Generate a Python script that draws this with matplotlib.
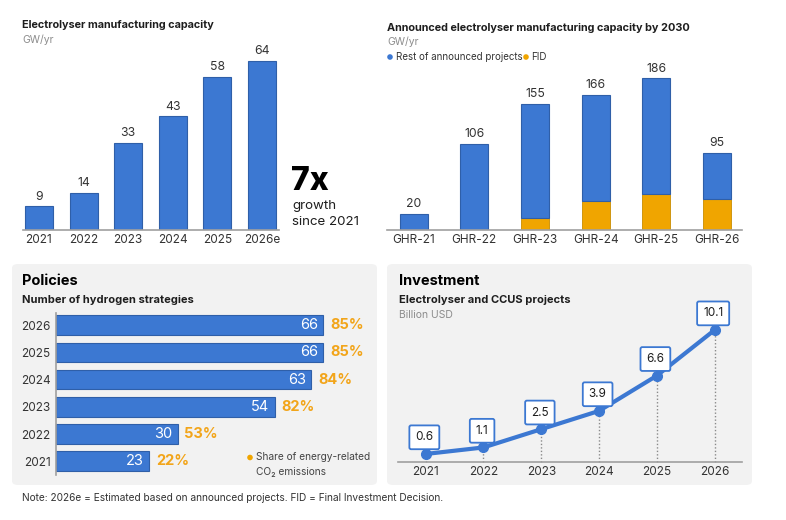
import matplotlib
matplotlib.use("Agg")
import matplotlib.pyplot as plt
from matplotlib.patches import FancyBboxPatch, Ellipse
import numpy as np

plt.rcParams['font.family'] = ['Inter', 'DejaVu Sans']

# ---------------- data ----------------
cap_years = ["2021", "2022", "2023", "2024", "2025", "2026e"]
cap_values = [9, 14, 33, 43, 58, 64]

ghr_labels = ["GHR-21", "GHR-22", "GHR-23", "GHR-24", "GHR-25", "GHR-26"]
ghr_totals = [20, 106, 155, 166, 186, 95]
ghr_fid = [0, 0, 15, 36, 44, 38]
ghr_rest = [t - f for t, f in zip(ghr_totals, ghr_fid)]

pol_years = ["2021", "2022", "2023", "2024", "2025", "2026"]
pol_counts = [23, 30, 54, 63, 66, 66]
pol_share = ["22%", "53%", "82%", "84%", "85%", "85%"]

inv_years = ["2021", "2022", "2023", "2024", "2025", "2026"]
inv_values = [0.6, 1.1, 2.5, 3.9, 6.6, 10.1]

BLUE = "#3C78D2"
EDGE = "#2F5FA8"
ORANGE = "#F0A500"
PCT = "#F2A51A"
DARK = "#1E1E1E"
GRAY = "#8C8C8C"
PANEL = "#F2F2F2"
AXIS = "#A0A0A0"

W, H = 786, 520
fig = plt.figure(figsize=(W / 100, H / 100), dpi=100)
fig.patch.set_facecolor("white")


def rect(x0, y0, x1, y1):
    return [x0 / W, 1 - y1 / H, (x1 - x0) / W, (y1 - y0) / H]


def fx(x):
    return x / W


def fy(y):
    return 1 - y / H


def dot(x, y, color, r=2.8):
    e = Ellipse((fx(x), fy(y)), 2 * r / W, 2 * r / H, transform=fig.transFigure,
                facecolor=color, edgecolor="none", zorder=3)
    fig.patches.append(e)


# ---------------- panels ----------------
for (x0, y0, x1, y1) in [(12, 264, 377, 485), (387, 264, 752, 485)]:
    p = FancyBboxPatch((fx(x0), fy(y1)), (x1 - x0) / W, (y1 - y0) / H,
                       boxstyle="round,pad=0,rounding_size=0.008",
                       transform=fig.transFigure, facecolor=PANEL,
                       edgecolor="none", zorder=-5)
    fig.patches.append(p)

# ---------------- top-left: capacity ----------------
ax1 = fig.add_axes(rect(22.7, 50, 279, 230))
x = np.arange(len(cap_years))
ax1.bar(x, cap_values, width=0.63, color=BLUE, edgecolor=EDGE, linewidth=0.8, zorder=2)
ax1.set_xlim(-0.365, 5.38)
ax1.set_ylim(0, 68.05)
for xi, v in zip(x, cap_values):
    ax1.annotate(str(v), (xi, v), xytext=(0, 2.5), textcoords="offset points",
                 ha="center", va="bottom", fontsize=8.8, color="#333333")
ax1.set_xticks(x)
ax1.set_xticklabels(cap_years, fontsize=8.5, color="#333333")
ax1.tick_params(axis="x", length=0, pad=3)
ax1.set_yticks([])
for s in ["top", "right", "left"]:
    ax1.spines[s].set_visible(False)
ax1.spines["bottom"].set_color(AXIS)
ax1.spines["bottom"].set_linewidth(1.2)
ax1.patch.set_alpha(0)

fig.text(fx(22), fy(25), "Electrolyser manufacturing capacity", fontsize=7.8,
         fontweight="bold", color=DARK, va="center", ha="left")
fig.text(fx(22), fy(40), "GW/yr", fontsize=7.5, color=GRAY, va="center", ha="left")
fig.text(fx(291), fy(182), "7x", fontsize=23, fontweight="heavy", color="black",
         va="center", ha="left")
fig.text(fx(292), fy(206), "growth", fontsize=9.6, color=DARK, va="center", ha="left")
fig.text(fx(292), fy(222), "since 2021", fontsize=9.6, color=DARK, va="center", ha="left")

# ---------------- top-right: announced ----------------
ax2 = fig.add_axes(rect(387, 70, 741.7, 230))
x2 = np.arange(len(ghr_labels))
ax2.bar(x2, ghr_fid, width=0.46, color=ORANGE, edgecolor="#C98C00", linewidth=0.6, zorder=2)
ax2.bar(x2, ghr_rest, bottom=ghr_fid, width=0.46, color=BLUE, edgecolor=EDGE,
        linewidth=0.8, zorder=2)
ax2.set_xlim(-0.44, 5.41)
ax2.set_ylim(0, 196.2)
for xi, t in zip(x2, ghr_totals):
    ax2.annotate(str(t), (xi, t), xytext=(0, 2.5), textcoords="offset points",
                 ha="center", va="bottom", fontsize=8.8, color="#333333")
ax2.set_xticks(x2)
ax2.set_xticklabels(ghr_labels, fontsize=8.5, color="#333333")
ax2.tick_params(axis="x", length=0, pad=3)
ax2.set_yticks([])
for s in ["top", "right", "left"]:
    ax2.spines[s].set_visible(False)
ax2.spines["bottom"].set_color(AXIS)
ax2.spines["bottom"].set_linewidth(1.2)
ax2.patch.set_alpha(0)

fig.text(fx(387), fy(28), "Announced electrolyser manufacturing capacity by 2030",
         fontsize=7.85, fontweight="bold", color=DARK, va="center", ha="left")
fig.text(fx(387), fy(42), "GW/yr", fontsize=7.5, color=GRAY, va="center", ha="left")
dot(390, 57, BLUE)
fig.text(fx(396), fy(57), "Rest of announced projects", fontsize=7, color="#333333",
         va="center", ha="left")
dot(526, 57, ORANGE)
fig.text(fx(531.5), fy(57), "FID", fontsize=7, color="#333333", va="center", ha="left")

# ---------------- bottom-left: policies ----------------
ax3 = fig.add_axes(rect(56, 313, 376, 475))
y3 = np.arange(len(pol_years))
ax3.barh(y3, pol_counts, height=0.72, color=BLUE, edgecolor=EDGE, linewidth=0.8, zorder=2)
ax3.set_xlim(0, 79)
ax3.set_ylim(-0.504, 5.45)
for yi, v, s in zip(y3, pol_counts, pol_share):
    ax3.annotate(str(v), (v, yi), xytext=(-4, 0), textcoords="offset points",
                 ha="right", va="center", fontsize=10.5, color="white")
    ax3.annotate(s, (v, yi), xytext=(5, 0), textcoords="offset points",
                 ha="left", va="center", fontsize=10.5, fontweight="bold", color=PCT)
ax3.set_yticks(y3)
ax3.set_yticklabels(pol_years, fontsize=8.5, color="#333333")
ax3.tick_params(axis="y", length=0, pad=4)
ax3.set_xticks([])
for s in ["top", "right", "bottom"]:
    ax3.spines[s].set_visible(False)
ax3.spines["left"].set_color(AXIS)
ax3.spines["left"].set_linewidth(1.2)
ax3.patch.set_alpha(0)

fig.text(fx(22), fy(281), "Policies", fontsize=10.5, fontweight="bold", color="black",
         va="center", ha="left")
fig.text(fx(22), fy(300), "Number of hydrogen strategies", fontsize=8, fontweight="bold",
         color=DARK, va="center", ha="left")
dot(250, 457.5, ORANGE)
fig.text(fx(256), fy(457.5), "Share of energy-related", fontsize=7.3, color="#444444",
         va="center", ha="left")
fig.text(fx(256), fy(472), "CO₂ emissions", fontsize=7.3, color="#444444",
         va="center", ha="left")

# ---------------- bottom-right: investment ----------------
ax4 = fig.add_axes(rect(398, 320, 741.7, 461.8))
x4 = np.arange(len(inv_years))
ax4.vlines(x4, 0, inv_values, colors="#8A8A8A", linestyles=(0, (1, 1.5)), linewidth=1,
           zorder=1)
ax4.plot(x4, inv_values, color=BLUE, linewidth=3, marker="o", markersize=7,
         solid_capstyle="round", zorder=3)
ax4.set_xlim(-0.48, 5.47)
ax4.set_ylim(0, 10.87)
for xi, v in zip(x4, inv_values):
    ax4.annotate(f"{v}", (xi, v), xytext=(-1, 12), textcoords="offset points",
                 ha="center", va="center", fontsize=8.5, color=DARK,
                 bbox=dict(boxstyle="round,pad=0.5,rounding_size=0.15",
                           facecolor="white", edgecolor=BLUE, linewidth=1.3),
                 zorder=4)
ax4.set_xticks(x4)
ax4.set_xticklabels(inv_years, fontsize=8.5, color="#333333")
ax4.tick_params(axis="x", length=0, pad=3)
ax4.set_yticks([])
for s in ["top", "right", "left"]:
    ax4.spines[s].set_visible(False)
ax4.spines["bottom"].set_color(AXIS)
ax4.spines["bottom"].set_linewidth(1.2)
ax4.spines["bottom"].set_zorder(5)
ax4.patch.set_alpha(0)
for art in ax4.get_children():
    try:
        art.set_clip_on(False)
    except Exception:
        pass

fig.text(fx(399), fy(281), "Investment", fontsize=10.5, fontweight="bold", color="black",
         va="center", ha="left")
fig.text(fx(399), fy(300), "Electrolyser and CCUS projects", fontsize=8, fontweight="bold",
         color=DARK, va="center", ha="left")
fig.text(fx(399), fy(315), "Billion USD", fontsize=7.5, color=GRAY, va="center", ha="left")

# ---------------- note ----------------
fig.text(fx(22), fy(498), "Note: 2026e = Estimated based on announced projects. "
         "FID = Final Investment Decision.", fontsize=7.3, color="#333333",
         va="center", ha="left")

fig.savefig("out.png", dpi=100)
